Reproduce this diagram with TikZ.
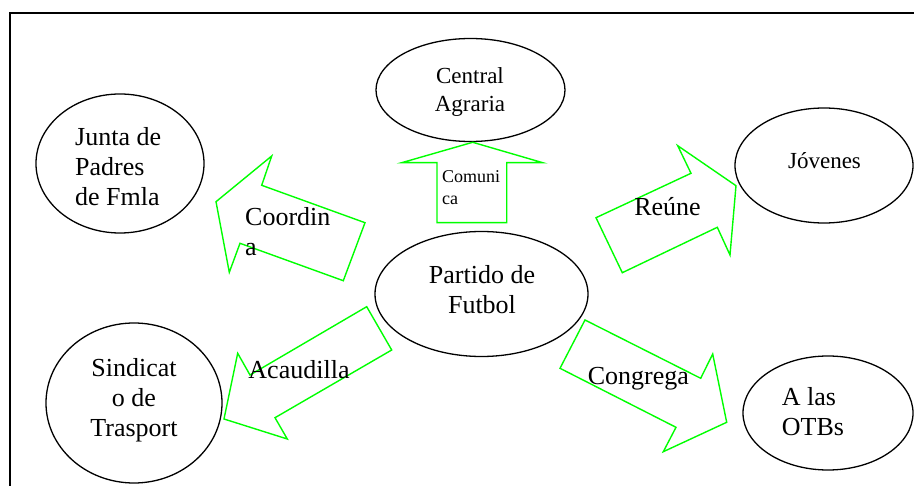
\documentclass[tikz,border=0pt]{standalone}
\usepackage{fontspec}
\setmainfont{Liberation Serif}
\usetikzlibrary{shapes.geometric}
\definecolor{arrgreen}{RGB}{0,255,0}
\begin{document}
\begin{tikzpicture}[x=1pt,y=-1pt,
  ell/.style={draw=black, line width=1.3pt, ellipse, inner sep=0pt},
  blk/.style={draw=arrgreen, line width=1.4pt, line join=miter},
  big/.style={inner sep=0pt, font=\fontsize{26}{30}\selectfont},
  mid/.style={inner sep=0pt, font=\fontsize{23}{28}\selectfont},
  small/.style={inner sep=0pt, font=\fontsize{18}{22}\selectfont},
]
\useasboundingbox (0,0) rectangle (914,486);
\draw[line width=1.3pt] (10,490) -- (10,13) -- (920,13);

% ellipses
\node[ell, minimum width=189pt, minimum height=103pt] (central) at (470.5,90) {};
\node[ell, minimum width=168pt, minimum height=139pt] (junta) at (120,163.5) {};
\node[ell, minimum width=178pt, minimum height=115pt] (jovenes) at (824,165.5) {};
\node[ell, minimum width=213pt, minimum height=125pt] (partido) at (481.5,294) {};
\node[ell, minimum width=176pt, minimum height=160pt] (sindicato) at (134,403) {};
\node[ell, minimum width=170pt, minimum height=114pt] (otbs) at (828,413) {};

% block arrows
\draw[blk] (216,201.7) -- (271.7,156) -- (261.7,185.3) -- (365,222.7) -- (343.3,280.7) -- (240,243.3) -- (229.3,272.3) -- cycle;
\draw[blk] (472.7,142.3) -- (542.7,162.7) -- (506.7,162.7) -- (506.7,222.7) -- (437,222.7) -- (437,162.7) -- (401.7,162.7) -- cycle;
\draw[blk] (736,185.7) -- (730,255) -- (717.3,227.3) -- (622.3,272.7) -- (596,217.7) -- (691,173.3) -- (677.7,145.7) -- cycle;
\draw[blk] (224,419) -- (237.7,353.3) -- (250,375) -- (366.7,306.7) -- (391.7,350) -- (275,417.7) -- (287.3,439) -- cycle;
\draw[blk] (726.7,422.3) -- (663.3,451.7) -- (676,427.3) -- (560,368.3) -- (585,320) -- (700.7,378.3) -- (712.7,354) -- cycle;

% texts
\node[big, align=left, anchor=west] (tjunta) at (75,167) {Junta de\\Padres\\de Fmla};
\node[mid, align=center] (tcentral) at (470,92) {Central\\Agraria};
\node[mid] (tjov) at (824.5,161) {Jóvenes};
\node[big, align=center] (tpart) at (482,290) {Partido de\\Futbol};
\node[big, align=center] (tsind) at (134,400) {Sindicat\\o de\\Trasport};
\node[big, align=left, anchor=west] (totbs) at (781.7,412) {A las\\OTBs};
\node[small, align=left, anchor=west] (tcom) at (442,188) {Comuni\\ca};
\node[big, align=left, anchor=west] (tcoord) at (245,231.5) {Coordin\\a};
\node[big] (treune) at (667.5,207) {Reúne};
\node[big] (tacau) at (299,370) {Acaudilla};
\node[big] (tcong) at (638.3,379) {Congrega};
\end{tikzpicture}
\end{document}
